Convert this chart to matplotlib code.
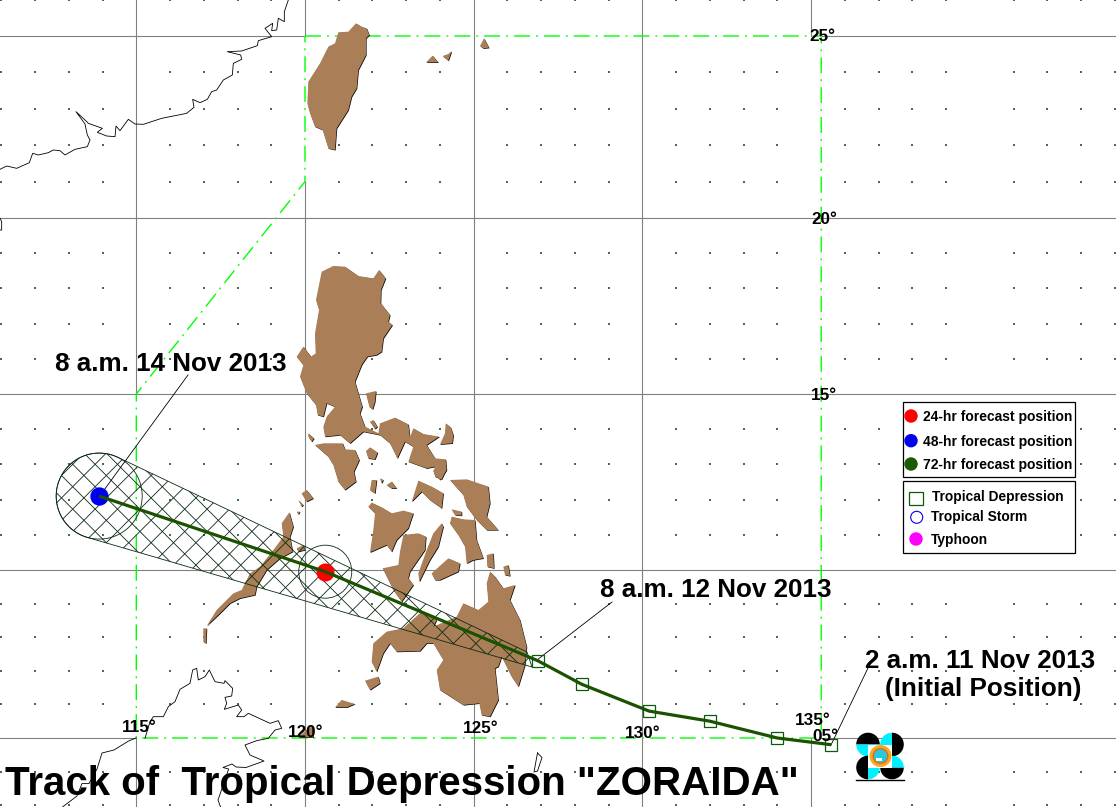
import numpy as np
import matplotlib
matplotlib.use("Agg")
import matplotlib.pyplot as plt
from matplotlib.patches import Polygon, Circle, Rectangle, Wedge
from matplotlib.transforms import Affine2D

# ---- track data (lon E, lat N) ----
track_lon = [135.6, 134.0, 132.0, 130.2, 128.2, 126.9, 120.6, 113.9]
track_lat = [4.8, 5.0, 5.5, 5.8, 6.6, 7.3, 9.95, 12.1]
square_lon = track_lon[:6]
square_lat = track_lat[:6]
f24 = (120.6, 9.95)
f48 = (113.9, 12.1)
par_lon = [120, 135.3, 135.3, 115, 115, 120, 120]
par_lat = [25, 25, 5, 5, 15, 21, 25]
lat_anchor = [0, 5, 10, 15, 20, 25, 30]
lat_anchor_px = [906, 738, 570, 394, 218, 36, -146]

# ---- labels ----
title = 'Track of  Tropical Depression "ZORAIDA"'
legend_a = ["24-hr forecast position", "48-hr forecast position", "72-hr forecast position"]
legend_b = ["Tropical Depression", "Tropical Storm", "Typhoon"]


def tr(ox, oy, pts, s=3.0):
    return [(ox + x / s, oy + y / s) for x, y in pts]


# ---- base-map outlines (image pixels) ----
land = [
    # Taiwan & neighbours
    tr(0, 0, [(1015,97),(1045,95),(1068,70),(1085,80),(1100,85),(1108,105),(1098,115),(1098,165),(1075,210),(1070,265),(1055,290),(1045,330),(1010,385),(1005,450),(985,445),(968,390),(945,380),(930,340),(922,310),(925,245),(960,190),(985,140),(1005,130)]),
    tr(0, 0, [(1278,187),(1298,167),(1315,187)]),
    tr(0, 0, [(1328,168),(1345,162),(1355,153),(1345,182)]),
    tr(0, 0, [(1440,138),(1452,115),(1467,143),(1450,145)]),
    # Luzon
    tr(280, 250, [(125,65),(160,48),(195,50),(235,78),(280,85),(297,60),(317,85),(303,120),(302,160),(330,195),(325,215),(337,225),(310,265),(305,305),(290,315),(262,320),(245,345),(225,395),(235,430),(247,470),(240,490),(255,530),(295,550),(300,520),(345,503),(385,523),(390,562),(400,535),(430,552),(478,560),(440,585),(465,625),(497,628),(500,660),(480,690),(460,665),(465,650),(440,655),(385,635),(400,590),(375,575),(352,625),(330,580),(300,555),(250,545),(210,580),(180,555),(135,560),(130,530),(140,500),(165,470),(140,460),(130,500),(113,495),(108,465),(80,430),(60,380),(70,345),(50,320),(70,290),(93,320),(107,310),(105,250),(117,180),(108,150)]),
    tr(280, 250, [(105,585),(130,580),(188,580),(195,598),(225,600),(238,630),(222,665),(228,695),(195,720),(175,695),(160,645),(145,620)]),
    tr(280, 250, [(85,550),(102,565),(95,575),(85,560)]),
    tr(280, 250, [(258,603),(270,592),(293,608),(285,628),(265,625)]),
    tr(280, 250, [(258,430),(288,423),(285,455),(278,478),(268,470)]),
    tr(280, 250, [(270,515),(280,510),(292,530),(285,537)]),
    tr(280, 250, [(497,520),(512,532),(520,555),(517,580),(480,583),(495,550)]),
    # Visayas
    tr(200, 470, [(750,30),(800,28),(865,50),(870,100),(860,140),(895,180),(860,180),(830,150),(800,110),(790,75)]),
    tr(200, 470, [(655,32),(695,50),(730,70),(725,115),(690,90),(665,65),(635,95)]),
    tr(200, 470, [(755,140),(790,148),(825,150),(830,210),(850,265),(820,270),(800,280),(795,230),(775,195),(750,160)]),
    tr(200, 470, [(755,118),(785,125),(785,137),(765,135)]),
    tr(200, 470, [(725,160),(730,170),(715,230),(690,270),(658,335),(655,310),(680,240),(700,190)]),
    tr(200, 470, [(610,195),(655,190),(678,200),(675,240),(630,305),(625,325),(640,345),(605,395),(580,360),(548,295),(595,285),(600,245)]),
    tr(200, 470, [(505,110),(515,98),(545,112),(575,130),(610,122),(640,130),(625,175),(590,210),(575,245),(560,225),(510,247),(520,180),(525,130)]),
    tr(200, 470, [(695,310),(745,265),(780,280),(775,305),(720,330),(705,330)]),
    tr(200, 470, [(515,30),(530,30),(525,70),(510,60)]),
    tr(200, 470, [(540,25),(550,30),(545,40)]),
    tr(200, 470, [(560,45),(575,35),(590,55),(575,55)]),
    tr(200, 470, [(700,0),(738,0),(725,28),(705,20)]),
    tr(200, 470, [(860,255),(880,250),(882,295),(862,290)]),
    tr(200, 470, [(910,290),(925,285),(930,318),(915,315)]),
    # Mindanao
    tr(200, 470, [(870,305),(885,320),(910,355),(945,345),(930,390),(960,450),(980,530),(975,585),(955,650),(935,620),(905,560),(895,590),(885,595),(895,690),(870,740),(845,735),(838,700),(790,705),(720,660),(710,600),(730,570),(700,520),(680,520),(660,543),(590,545),(570,520),(550,550),(530,605),(515,575),(520,520),(560,485),(610,475),(620,465),(665,425),(710,450),(700,470),(770,440),(790,400),(835,420),(865,395),(860,340)]),
    tr(200, 470, [(495,632),(535,620),(540,640),(510,660)]),
    tr(200, 470, [(405,712),(425,690),(465,702),(440,712)]),
    tr(100, 650, [(595,262),(635,225),(640,262)]),
    # Palawan
    tr(200, 470, [(20,468),(50,420),(100,370),(125,360),(150,310),(180,290),(220,240),(250,200),(245,160),(268,127),(280,170),(270,200),(278,245),(240,265),(200,300),(170,350),(165,375),(120,385),(90,400),(60,430)]),
    tr(200, 470, [(10,475),(20,475),(18,520),(10,515)]),
    tr(200, 470, [(305,70),(320,60),(340,85),(320,95)]),
    tr(200, 470, [(295,90),(310,105),(305,110)]),
    tr(200, 470, [(290,125),(300,125),(295,133)]),
    tr(200, 470, [(290,235),(310,225),(315,240),(295,245)]),
]

coast_china = tr(0, 0, [(865,0),(853,35),(853,65),(835,55),(830,90),(815,92),(818,70),(795,85),(815,110),(775,122),(772,137),(725,153),(682,155),(722,165),(725,178),(700,190),(697,225),(670,240),(650,270),(635,275),(622,298),(600,308),(578,298),(582,322),(560,340),(520,348),(485,355),(430,373),(405,372),(385,358),(360,392),(348,378),(345,410),(320,408),(292,397),(307,385),(265,370),(255,360),(228,335),(255,372),(262,405),(270,420),(262,440),(225,448),(195,465),(180,452),(160,450),(145,458),(115,465),(98,460),(88,488),(50,505),(20,498),(0,508)])
coast_hainan = tr(0, 0, [(0,655),(5,665),(5,690),(0,690)])
coast_borneo = tr(100, 650, [(135,265),(150,215),(160,200),(190,200),(205,170),(225,155),(240,118),(270,100),(278,60),(290,55),(295,90),(315,80),(328,60),(345,95),(372,100),(375,92),(398,115),(395,138),(375,142),(380,160),(373,178),(415,165),(425,180),(410,200),(432,200),(445,190),(510,220),(535,212),(545,235),(525,240),(505,265),(470,272),(435,285)]) + [(250,755),(264,761),(246,767.5),(236,767),(232,764),(223,767.5),(228.6,769),(225,780),(218,800),(222,811)]
coast_sw = [(136,738),(128.6,741),(114,750),(102,753),(97,769),(89,783.6),(82,783.6),(77,796),(62.5,807)]
coast_small = [(537.5,753),(542,757.5),(537.5,771),(534,772),(537.5,753)]

W, H = 1116, 807
fig = plt.figure(figsize=(W / 100, H / 100), dpi=100, facecolor="white")
ax = fig.add_axes([0, 0, 1, 1])
PX = Affine2D().scale(1, -1).translate(0, H)  # image pixels, y down

plt.rcParams["lines.scale_dashes"] = False
FONT = "Liberation Sans"
THIN = 0.6
LAT = np.array(lat_anchor, float)
NEG = -np.array(lat_anchor_px, float)
ax.set_yscale("function", functions=(lambda v: np.interp(v, LAT, NEG),
                                     lambda v: np.interp(v, NEG, LAT)))
ax.set_xlim(115 - 136.3 / 33.74, 115 + (W - 136.3) / 33.74)
ax.set_ylim(np.interp(-H, NEG, LAT), np.interp(0, NEG, LAT))
ax.axis("off")

# graticule
GRAY = "#808080"
glw = 0.8
lon0, lon1 = ax.get_xlim()
lat0, lat1 = ax.get_ylim()
for lo, la_a, la_b in [(115, 15, lat1), (115, lat0, 5), (120, 21, lat0), (120, 25, lat1),
                       (125, lat0, lat1), (130, lat0, lat1), (135, 25, lat1), (135, lat0, 5)]:
    ax.plot([lo, lo], [la_a, la_b], color=GRAY, lw=glw, zorder=1)
for la, lo_a, lo_b in [(25, lon0, 120), (25, 135.3, lon1), (5, lon0, 115), (5, 135.3, lon1),
                       (10, lon0, lon1), (15, lon0, lon1), (20, lon0, lon1)]:
    ax.plot([lo_a, lo_b], [la, la], color=GRAY, lw=glw, zorder=1)

# one-degree dots
dl = [l for l in range(111, 145) if l % 5]
dp = [l for l in range(3, 27) if l % 5]
gx, gy = np.meshgrid(dl, dp)
ax.scatter(gx.ravel(), gy.ravel(), s=0.55, marker="s", color="#4a6a4a", linewidths=0, zorder=1.5)

# PAR boundary
ax.plot(par_lon, par_lat, color="#00FF00", lw=1.0,
        linestyle=(0, (11.5, 4.3, 1.4, 4.3)), zorder=2)

# land
for poly in land:
    ax.add_patch(Polygon(poly, closed=True, transform=Affine2D().translate(0.6, 0.6) + PX,
                         fc="black", ec="none", zorder=3))
for poly in land:
    ax.add_patch(Polygon(poly, closed=True, transform=PX, fc="#AA7F57", ec="none", zorder=3.1))

# coast lines
for line in (coast_china, coast_hainan, coast_borneo, coast_sw, coast_small):
    xs, ys = zip(*line)
    ax.plot(xs, ys, color="black", lw=THIN, transform=PX, zorder=3.2)


def to_px(lonlat):
    x, y = ax.transData.transform(lonlat)
    return x, H - y


# forecast cone
EDGE = "#0A2A14"
bx, by = to_px(f48)
rx, ry = to_px(f24)
R_big, R_small = 43, 26.5
theta = np.radians(np.linspace(-64.7, -253.7, 60))
arc = np.column_stack([bx + R_big * np.cos(theta), by + R_big * np.sin(theta)])
cone = np.vstack([arc, [[532, 667], [527, 652]]])
cone_patch = Polygon(cone, closed=True, transform=PX, fc="none", ec=EDGE, lw=THIN, zorder=4)
ax.add_patch(cone_patch)
step = 22.4
for k in range(0, 62):
    c1 = 537 + step * (k - 30)
    l1, = ax.plot([0, 1000], [c1, c1 - 1000], color=EDGE, lw=THIN, transform=PX, zorder=4)
    l1.set_clip_path(cone_patch)
    c2 = 391.6 + step * (k - 30)
    l2, = ax.plot([0, 1000], [c2, c2 + 1000], color=EDGE, lw=THIN, transform=PX, zorder=4)
    l2.set_clip_path(cone_patch)
for (cx, cy), r in (((bx, by), R_big), ((rx, ry), R_small)):
    ax.add_patch(Circle((cx, cy), r, transform=PX, fc="none", ec=EDGE, lw=THIN, zorder=4))

# leaders
for a, b in [((188, 375), (99, 497)), ((612, 602), (537, 660)), ((868, 668), (831, 745))]:
    ax.plot([a[0], b[0]], [a[1], b[1]], color="black", lw=THIN, transform=PX, zorder=4.2)

# forecast positions, track, squares
ax.plot(*f24, "o", ms=13, color="#FF0000", mec="none", zorder=5)
ax.plot(*f48, "o", ms=13.2, color="#0000F0", mec="none", zorder=5)
ax.plot(track_lon, track_lat, color="#1A5200", lw=2.3, zorder=6, solid_capstyle="butt")
ax.plot(square_lon, square_lat, "s", ms=9.2, mfc="none", mec="#0A5A0A", mew=0.9, zorder=6.2)


def txt(x, y, s, size, **kw):
    ax.text(x, y, s, transform=PX, fontsize=size, family=FONT, fontweight="bold",
            color="black", va="baseline", ha="left", zorder=8, **kw)


# graticule labels
for x, y, s in [(809, 41, "25°"), (811, 224, "20°"), (811, 400, "15°"), (812, 741, "05°"),
                (795, 725, "135°"), (625, 738, "130°"), (463, 733, "125°"),
                (288, 737, "120°"), (122, 732, "115°")]:
    txt(x, y, s, 12.3)

txt(55, 371, "8 a.m. 14 Nov 2013", 18.7)
txt(600, 597, "8 a.m. 12 Nov 2013", 18.7)
txt(865, 668, "2 a.m. 11 Nov 2013", 18.7)
txt(885, 696, "(Initial Position)", 18.8)
txt(5, 795, title, 29.0)

# legend boxes
for y0, y1 in [(402.3, 476.7), (480.7, 553.3)]:
    ax.add_patch(Rectangle((903.3, y0), 171.7, y1 - y0, transform=PX, fc="white", ec="black",
                           lw=0.9, zorder=7))
for y, c, s, by_ in zip([416, 440.7, 464], ["#FF0000", "#0000F0", "#1E5A00"], legend_a, [421, 445.7, 469]):
    ax.add_patch(Circle((911, y), 6.7, transform=PX, fc=c, ec="none", zorder=7.5))
    txt(923.3, by_, s, 10.0)
ax.add_patch(Rectangle((909.3, 491.7), 13.4, 13.3, transform=PX, fc="none", ec="#0A5A0A", lw=0.9, zorder=7.5))
ax.add_patch(Circle((916.7, 517.3), 6, transform=PX, fc="none", ec="#0000F0", lw=0.8, zorder=7.5))
ax.add_patch(Circle((916, 539), 6.7, transform=PX, fc="#FF00FF", ec="none", zorder=7.5))
for x, y, s in zip([932, 931, 931], [500.7, 520.7, 544], legend_b):
    txt(x, y, s, 9.95)

# logo
lg = [((868, 744.5), 0), ((892, 744.5), -90), ((892, 767.5), 180), ((868, 767.5), 90)]
for (cx, cy), a in lg:
    # image y points down, so angles are mirrored by PX
    ax.add_patch(Wedge((cx, cy), 11.8, -a - 180, -a, transform=PX, fc="black", ec="none", zorder=7))
    ax.add_patch(Wedge((cx, cy), 11.8, -a, -a + 180, transform=PX, fc="#00F0FF", ec="none", zorder=7))
ax.add_patch(Rectangle((868, 745), 24, 23, transform=PX, fc="white", ec="none", zorder=7.1))
ax.add_patch(Circle((880.5, 756), 11, transform=PX, fc="#F7A81B", ec="none", zorder=7.2))
ax.add_patch(Circle((880.5, 756), 8, transform=PX, fc="#E8641E", ec="none", zorder=7.3))
ax.add_patch(Circle((880.5, 756), 6.6, transform=PX, fc="#22CCDD", ec="none", zorder=7.4))
ax.add_patch(Rectangle((876, 758), 6, 3, transform=PX, fc="white", ec="none", zorder=7.5))
ax.plot([856, 904], [780, 780], color="black", lw=1.0, transform=PX, zorder=7.5)

fig.savefig("out.png", dpi=100)
